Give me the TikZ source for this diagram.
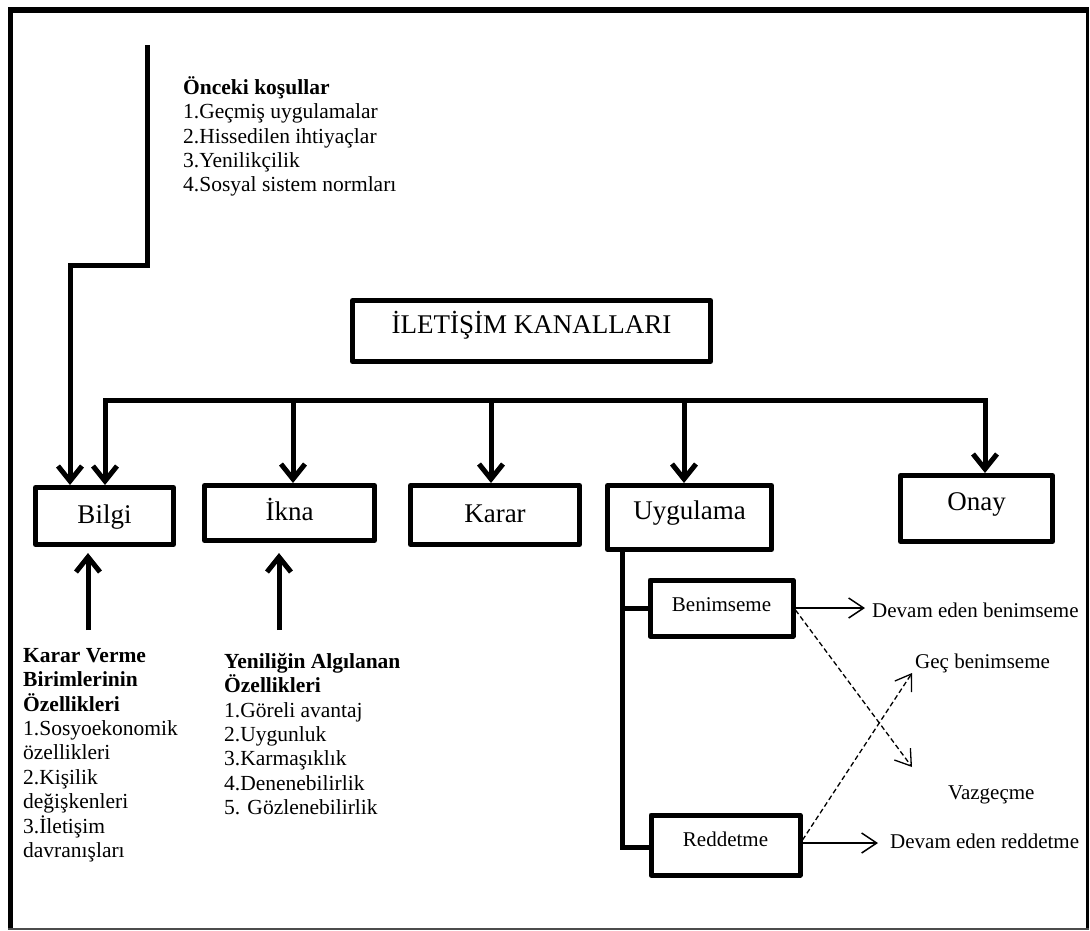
\documentclass[tikz,border=0pt]{standalone}
\usepackage{fontspec}
\setmainfont{Liberation Serif}
\usetikzlibrary{arrows.meta,calc}

\tikzset{
  bigtip/.tip={Straight Barb[length=15pt,width=24pt]},
  smalltip/.tip={Straight Barb[length=15pt,width=20pt]},
  stage/.style={draw, line width=5pt, line join=round, inner sep=0pt,
    font=\fontsize{27}{31}\selectfont, text height=16pt},
  substage/.style={draw, line width=5pt, line join=round, inner sep=0pt,
    font=\fontsize{21}{24}\selectfont, text height=14pt},
  conn/.style={line width=5pt},
  thinarrow/.style={line width=1.5pt, -smalltip},
  dasharrow/.style={line width=1.3pt, dash pattern=on 5pt off 3pt, -smalltip},
  listtext/.style={anchor=north west, inner sep=0pt, align=left,
    font=\fontsize{21.5}{24.4}\selectfont},
  outtext/.style={anchor=base west, inner sep=0pt, font=\fontsize{21}{24}\selectfont}
}

\begin{document}
\begin{tikzpicture}[x=1pt,y=-1pt]
\useasboundingbox (0,0) rectangle (1090,930);

% outer frame
\draw[line width=6pt] (8,10) -- (1089,10);
\draw[line width=5pt] (10.5,7) -- (10.5,929);
\draw[line width=3pt] (1087,7) -- (1087,929);
\draw[line width=2pt, black!70] (8,929) -- (1089,929);

% main stages
\node[stage, minimum width=358pt, minimum height=61pt, text depth=12pt] (ch) at (531.5,331) {İLETİŞİM KANALLARI};
\node[stage, minimum width=138pt, minimum height=57pt, text depth=2pt] (bilgi) at (104.5,516) {Bilgi};
\node[stage, minimum width=170pt, minimum height=55pt, text depth=2pt] (ikna) at (289.5,513) {İkna};
\node[stage, minimum width=169pt, minimum height=59pt, text depth=2pt] (karar) at (495,515) {Karar};
\node[stage, minimum width=164pt, minimum height=64pt, text depth=12pt] (uyg) at (689.5,517.5) {Uygulama};
\node[stage, minimum width=152pt, minimum height=66pt, text depth=13pt] (onay) at (976.5,508.5) {Onay};

% implementation outcomes
\node[substage, minimum width=143pt, minimum height=56pt, text depth=8pt] (ben) at (721.5,608) {Benimseme};
\node[substage, minimum width=149pt, minimum height=60pt, text depth=11pt] (red) at (725.5,845) {Reddetme};

% text blocks
\node[listtext] (pre) at (183,75) {\textbf{\rule{0pt}{19pt}Önceki koşullar}\\1.Geçmiş uygulamalar\\2.Hissedilen ihtiyaçlar\\3.Yenilikçilik\\4.Sosyal sistem normları};
\node[listtext] (units) at (23,643) {\textbf{\rule{0pt}{19pt}Karar Verme}\\\textbf{Birimlerinin}\\\textbf{Özellikleri}\\1.Sosyoekonomik\\özellikleri\\2.Kişilik\\değişkenleri\\3.İletişim\\davranışları};
\node[listtext] (attr) at (224,649) {\textbf{\rule{0pt}{19pt}Yeniliğin Algılanan}\\\textbf{Özellikleri}\\1.Göreli avantaj\\2.Uygunluk\\3.Karmaşıklık\\4.Denenebilirlik\\5. Gözlenebilirlik};

\node[outtext] (cont1) at (872,617) {Devam eden benimseme};
\node[outtext] (late) at (915,668) {Geç benimseme};
\node[outtext] (quit) at (948,799) {Vazgeçme};
\node[outtext] (cont2) at (890,848) {Devam eden reddetme};

% prior conditions into knowledge
\coordinate (src) at (147,45);
\coordinate (bend) at (70,265);
\draw[conn,-bigtip] (src) |- (bend) -- (bend |- bilgi.north);

% communication channels bus
\coordinate (busL) at (105,400);
\coordinate (busR) at (985,400);
\coordinate (b2) at (293,400);
\coordinate (b3) at (491,400);
\coordinate (b4) at (684,400);
\draw[conn,bigtip-bigtip] (busL |- bilgi.north) -- (busL) -- (busR) -- (busR |- onay.north);
\draw[conn,-bigtip] (b2) -- (b2 |- ikna.north);
\draw[conn,-bigtip] (b3) -- (b3 |- karar.north);
\draw[conn,-bigtip] (b4) -- (b4 |- uyg.north);

% characteristics feeding upward
\coordinate (f1) at (88,630);
\coordinate (f2) at (279,630);
\draw[conn,-bigtip] (f1) -- ($(f1 |- bilgi.south)+(0,6)$);
\draw[conn,-bigtip] (f2) -- ($(f2 |- ikna.south)+(0,10)$);

% implementation branches
\coordinate (trunk) at (622,847);
\draw[conn] (trunk |- uyg.south) -- (trunk) -- (trunk -| red.west);
\draw[conn] (trunk |- ben.west) -- (ben.west);

% outcomes
\coordinate (dn) at (912,767);
\coordinate (up) at (912,673);
\draw[thinarrow] (ben.east) -- ($(ben.east -| cont1.west)+(-7,0)$);
\draw[thinarrow] ($(red.east)+(0,-2)$) -- ($(red.east -| cont2.west)+(-12,-2)$);
\draw[dasharrow] ($(ben.east)+(0,2)$) -- (dn);
\draw[dasharrow] ($(red.east)+(0,-5)$) -- (up);
\end{tikzpicture}
\end{document}
